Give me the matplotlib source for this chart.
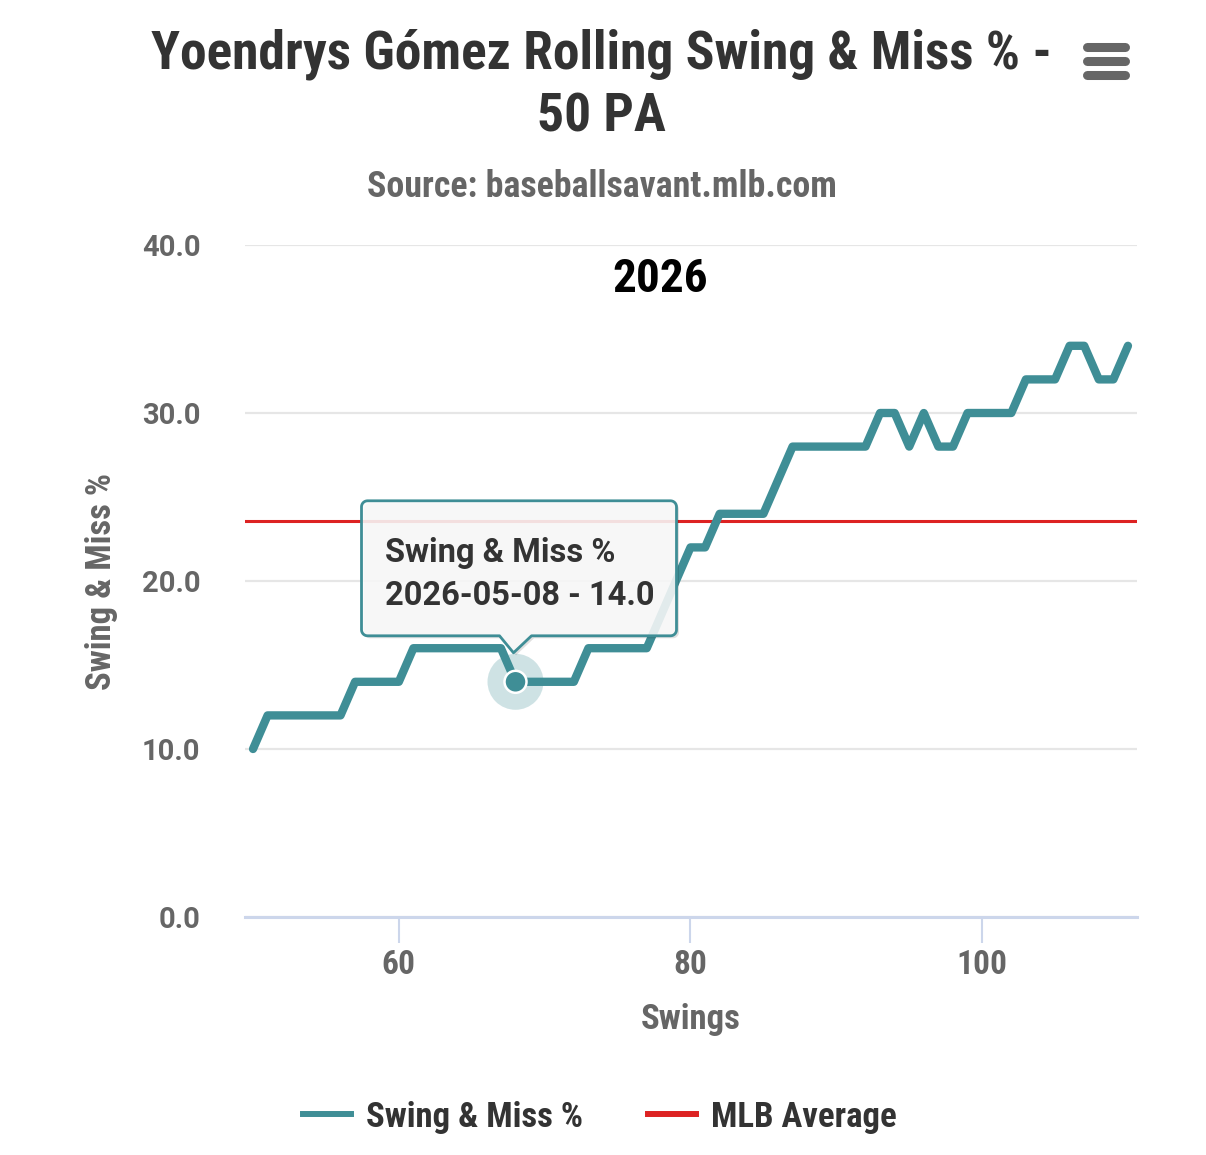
import numpy as np
import matplotlib
matplotlib.use('Agg')
import matplotlib.pyplot as plt
from matplotlib.lines import Line2D
from matplotlib.patches import Polygon, Circle
from matplotlib.transforms import ScaledTranslation

# ---------------- data ----------------
swings = [50, 51, 52, 53, 54, 55, 56, 57, 58, 59, 60, 61, 62, 63, 64, 65, 66, 67, 68, 69,
          70, 71, 72, 73, 74, 75, 76, 77, 78, 79, 80, 81, 82, 83, 84, 85, 86, 87, 88, 89,
          90, 91, 92, 93, 94, 95, 96, 97, 98, 99, 100, 101, 102, 103, 104, 105, 106, 107,
          108, 109, 110]
swing_miss_pct = [10, 12, 12, 12, 12, 12, 12, 14, 14, 14, 14, 16, 16, 16, 16, 16, 16, 16,
                  14, 14, 14, 14, 14, 16, 16, 16, 16, 16, 18, 20, 22, 22, 24, 24, 24, 24,
                  26, 28, 28, 28, 28, 28, 28, 30, 30, 28, 30, 28, 28, 30, 30, 30, 30, 32,
                  32, 32, 34, 34, 32, 32, 34]
mlb_average = 23.6
y_ticks = [0, 10, 20, 30, 40]
x_ticks = [60, 80, 100]
hover_swing = 68
hover_date = "2026-05-08"

title_line1 = "Yoendrys Gómez Rolling Swing & Miss % -"
title_line2 = "50 PA"
subtitle = "Source: baseballsavant.mlb.com"
season_label = "2026"
series_name = "Swing & Miss %"
avg_name = "MLB Average"

# ---------------- style ----------------
COND = ['Roboto Condensed', 'Roboto', 'DejaVu Sans']
REG = ['Roboto', 'DejaVu Sans']
TEAL = '#3f8e96'
RED = '#dd2222'
GRAY = '#666666'
DARK = '#333333'

W, H = 1206, 1155
fig = plt.figure(figsize=(W / 100, H / 100), dpi=100)
fig.patch.set_facecolor('white')

def fx(px):
    return px / W

def fy(py):
    return 1 - py / H

ax = fig.add_axes([fx(245), fy(917), fx(1137) - fx(245), fy(245) - fy(917)])
ax.set_xlim(49.45, 110.62)
ax.set_ylim(0, 40)

# grid & axes
ax.set_yticks(y_ticks)
ax.set_yticklabels([f"{v:.1f}" for v in y_ticks])
ax.yaxis.grid(True, color='#e6e6e6', lw=1.6, zorder=0)
ax.set_axisbelow(True)
for s in ['top', 'right', 'left']:
    ax.spines[s].set_visible(False)
ax.spines['bottom'].set_color('#ccd6eb')
ax.spines['bottom'].set_linewidth(2.2)
ax.tick_params(axis='y', length=0, pad=32, labelsize=21, labelcolor=GRAY)
for lab in ax.get_yticklabels():
    lab.set_family(REG)
    lab.set_fontweight('bold')
ax.set_xticks(x_ticks)
ax.tick_params(axis='x', length=19, width=1.5, color='#ccd6eb', pad=4,
               labelsize=24, labelcolor=GRAY)
for lab in ax.get_xticklabels():
    lab.set_family(COND)
    lab.set_fontweight('bold')

ax.set_xlabel("Swings", family=COND, fontweight='bold', fontsize=25, color=GRAY, labelpad=16)
ax.set_ylabel("Swing & Miss %", family=COND, fontweight='bold', fontsize=25, color=GRAY, labelpad=17)

# series
ax.axhline(mlb_average, color=RED, lw=2.2, zorder=2)
ax.plot(swings, swing_miss_pct, color=TEAL, lw=6.0, solid_joinstyle='round',
        solid_capstyle='round', zorder=3)

# hover marker
hi = swings.index(hover_swing)
hx, hy = swings[hi], swing_miss_pct[hi]
anchor = fig.dpi_scale_trans + ScaledTranslation(hx, hy, ax.transData)
ax.add_patch(Circle((0, 0), 0.28, transform=anchor, facecolor=TEAL, alpha=0.25,
                    edgecolor='none', zorder=4, clip_on=False))
ax.add_patch(Circle((0, 0), 0.11, transform=anchor, facecolor=TEAL,
                    edgecolor='white', lw=1.8, zorder=5, clip_on=False))

# tooltip callout (pixel offsets relative to hovered point)
L, R, T, B, r = -154, 161, 181, 46, 6
def arc(cx, cy, a0, a1, n=8):
    a = np.linspace(np.radians(a0), np.radians(a1), n)
    return list(zip(cx + r * np.cos(a), cy + r * np.sin(a)))
verts = [(L + r, B), (-16, B), (-2, 29), (16, B), (R - r, B)]
verts += arc(R - r, B + r, -90, 0)
verts += arc(R - r, T - r, 0, 90)
verts += arc(L + r, T - r, 90, 180)
verts += arc(L + r, B + r, 180, 270)
verts = np.array(verts) / 100.0
shadow = fig.dpi_scale_trans + ScaledTranslation(0.025, -0.025, fig.dpi_scale_trans) + \
    ScaledTranslation(hx, hy, ax.transData)
ax.add_patch(Polygon(verts, closed=True, transform=shadow, facecolor='black', alpha=0.12,
                     edgecolor='none', zorder=6, clip_on=False))
ax.add_patch(Polygon(verts, closed=True, transform=anchor, facecolor='#fbfbfb', alpha=0.88,
                     edgecolor='none', zorder=7, clip_on=False))
ax.add_patch(Polygon(verts, closed=True, transform=anchor, facecolor='none',
                     edgecolor=TEAL, lw=2.0, zorder=8, clip_on=False, joinstyle='round'))
ax.text(-1.31, 1.20, series_name, transform=anchor, ha='left', va='baseline',
        fontsize=23.5, fontweight='bold', color=DARK, family=REG, zorder=9)
ax.text(-1.31, 0.77, f"{hover_date} - {hy:.1f}", transform=anchor, ha='left', va='baseline',
        fontsize=23.5, fontweight='bold', color=DARK, family=REG, zorder=9)

# season label
ax.text(fx(660), fy(292), season_label, transform=fig.transFigure, ha='center',
        va='baseline', fontsize=34, fontweight='bold', color='black', family=COND)

# titles
fig.text(fx(601), fy(68), title_line1, ha='center', va='baseline', fontsize=38.5,
         fontweight='bold', color=DARK, family=COND)
fig.text(fx(601), fy(132), title_line2, ha='center', va='baseline', fontsize=38.5,
         fontweight='bold', color=DARK, family=COND)
fig.text(fx(602), fy(197), subtitle, ha='center', va='baseline', fontsize=25.8,
         fontweight='bold', color=GRAY, family=COND)

# hamburger menu icon
for yb in (47, 61, 75):
    fig.add_artist(Line2D([fx(1087), fx(1125)], [fy(yb), fy(yb)], color='#666666',
                          lw=6.5, solid_capstyle='round', transform=fig.transFigure))

# legend
handles = [Line2D([], [], color=TEAL, lw=4.3), Line2D([], [], color=RED, lw=4.3)]
leg = fig.legend(handles, [series_name, avg_name], loc='center',
                 bbox_to_anchor=(fx(600), fy(1117)), ncol=2, frameon=False,
                 handlelength=1.38, handletextpad=0.43, columnspacing=1.87,
                 prop={'family': COND, 'weight': 'bold', 'size': 25})
for t in leg.get_texts():
    t.set_color(DARK)

fig.savefig('out.png', dpi=100, facecolor='white')
